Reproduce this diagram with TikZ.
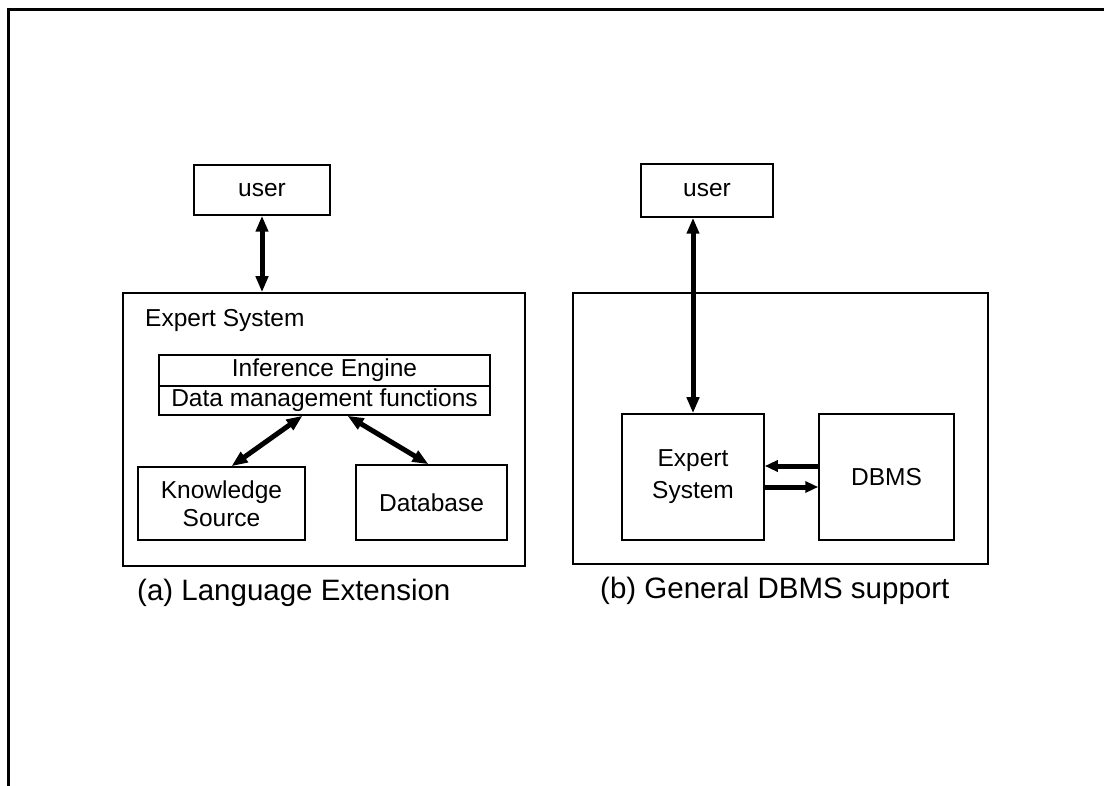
\documentclass[tikz,border=0pt]{standalone}
\usepackage{fontspec}
\setmainfont{Liberation Sans}
\usetikzlibrary{arrows.meta,calc}
\begin{document}
\begin{tikzpicture}[x=1pt,y=-1pt,
  box/.style={draw=black,line width=1.5pt,rectangle,inner sep=0pt,align=center,
    font=\fontsize{24.5}{28}\selectfont},
  lbl/.style={inner sep=0pt,font=\fontsize{24.5}{28}\selectfont},
  captxt/.style={inner sep=0pt,font=\fontsize{29.5}{34}\selectfont},
  bigarr/.style={line width=5pt,{Triangle[length=16pt,width=12pt]}-{Triangle[length=16pt,width=12pt]}},
  harr/.style={line width=5pt,-{Triangle[length=13pt,width=11pt]}},
  framestyle/.style={line width=3pt}]
\useasboundingbox (0,0) rectangle (1104,786);
\draw[framestyle] (8,786) -- (8,10) -- (1104,10);

% (a) Language Extension
\node[box,minimum width=136pt,minimum height=50pt] (lu) at (262,190) {user};
\node[box,minimum width=402pt,minimum height=273pt] (lo) at (324,429.5) {};
\node[lbl,anchor=base west] (lol) at (145,327) {Expert System};
\node[box,minimum width=331pt,minimum height=31pt] (ie) at (324.5,370.5) {Inference Engine};
\node[box,minimum width=331pt,minimum height=29pt] (dm) at (324.5,400.5) {Data management functions};
\node[box,minimum width=167pt,minimum height=73pt] (ks) at (221.5,503.5) {Knowledge\\Source};
\node[box,minimum width=151pt,minimum height=75pt] (db) at (431.5,502.5) {Database};
\node[captxt,anchor=base west] (capa) at (137,600) {(a) Language Extension};

\draw[bigarr] (lu.south) -- (lu.south |- lo.north);
\draw[bigarr] ([xshift=-22pt]dm.south) -- ([xshift=10pt]ks.north);
\draw[bigarr] ([xshift=23pt]dm.south) -- ([xshift=-3pt]db.north);

% (b) General DBMS support
\node[box,minimum width=132pt,minimum height=53pt] (ru) at (707,190.5) {user};
\node[box,minimum width=415pt,minimum height=271pt] (ro) at (780.5,428.5) {};
\node[box,minimum width=142pt,minimum height=126pt,font=\fontsize{24.5}{32}\selectfont] (es) at (693,477) {Expert\\System};
\node[box,minimum width=135pt,minimum height=126pt] (dbms) at (886.5,477) {DBMS};
\node[captxt,anchor=base west] (capb) at (600,598) {(b) General DBMS support};

\draw[bigarr] (es.north) -- (es.north |- ru.south);
\draw[harr] ([yshift=11pt]dbms.west) -- ([yshift=11pt]es.east);
\draw[harr] ([yshift=-10pt]es.east) -- ([yshift=-10pt]dbms.west);
\end{tikzpicture}
\end{document}
